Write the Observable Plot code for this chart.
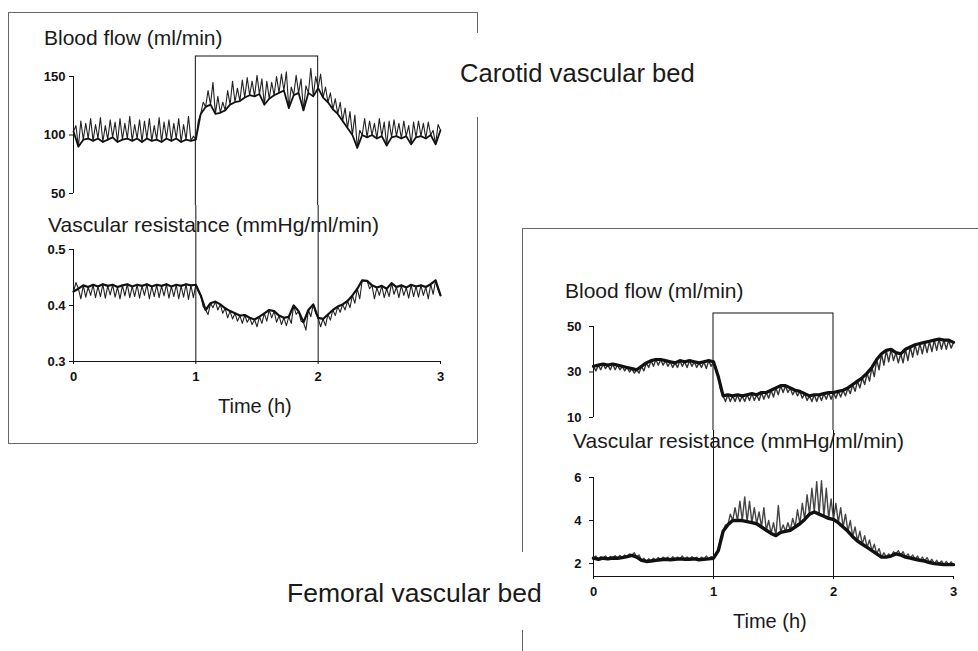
<!DOCTYPE html>
<html>
<head>
<meta charset="utf-8">
<script src="https://cdn.jsdelivr.net/npm/d3@7"></script>
<script src="https://cdn.jsdelivr.net/npm/@observablehq/plot@0.6"></script>
<style>
  html, body { margin: 0; padding: 0; background: #fff; }
  #root { position: relative; width: 978px; height: 651px; overflow: hidden; background: #fff; font-family: "Liberation Sans", Arial, sans-serif; color: #111; }
  #root svg text { font: bold 13px "Liberation Sans", Arial, sans-serif !important; fill: #111; }
  .hl { position: absolute; height: 0; border-top: 1px solid #666; }
  .vl { position: absolute; width: 0; border-left: 1px solid #666; }
  .txt { position: absolute; white-space: nowrap; line-height: 1; color: #1a1a1a; }
</style>
</head>
<body>
<div id="root"></div>
<script>
// ---------- data (read from the figure), sampled every 0.02 h from 0 to 3 h ----------
// even entries: trace baseline, odd entries: spike tips
const timeH = d3.range(151).map(i => i / 50);
const stimulation = [1, 2]; // stimulation period (h)

const carotidFlow = [
  103,108,90,112,96,110,97,114,95,109,
  97,115,94,108,96,113,98,111,94,114,
  96,110,97,116,95,109,97,113,94,112,
  97,114,95,108,96,115,94,111,97,113,
  95,110,97,114,94,109,96,116,95,99,
  96,112,118,128,124,138,126,145,118,133,
  119,128,121,138,126,146,128,140,129,147,
  132,149,134,146,133,151,135,148,126,146,
  131,145,134,150,136,152,138,154,123,141,
  134,151,136,148,121,142,136,157,133,150,
  140,152,132,141,128,136,122,131,118,128,
  112,123,106,120,100,117,89,104,100,114,
  98,112,100,110,97,114,99,111,91,112,
  98,113,99,110,97,112,99,108,92,111,
  98,112,99,110,97,111,100,104,92,109,
  104
];
const carotidRes = [
  0.425,0.441,0.43,0.412,0.436,0.415,0.433,0.418,0.437,0.414,
  0.434,0.416,0.438,0.413,0.435,0.419,0.437,0.415,0.433,0.412,
  0.436,0.417,0.438,0.414,0.434,0.416,0.437,0.413,0.435,0.418,
  0.438,0.412,0.434,0.416,0.437,0.414,0.435,0.417,0.438,0.413,
  0.434,0.416,0.437,0.412,0.435,0.415,0.438,0.411,0.436,0.414,
  0.437,0.425,0.418,0.398,0.392,0.384,0.404,0.396,0.407,0.392,
  0.402,0.386,0.395,0.378,0.39,0.376,0.386,0.372,0.382,0.368,
  0.383,0.37,0.378,0.366,0.375,0.362,0.38,0.368,0.386,0.372,
  0.392,0.378,0.39,0.37,0.382,0.366,0.378,0.364,0.38,0.368,
  0.4,0.384,0.39,0.372,0.37,0.356,0.392,0.38,0.402,0.386,
  0.378,0.362,0.376,0.364,0.384,0.374,0.392,0.382,0.398,0.388,
  0.402,0.392,0.408,0.396,0.418,0.404,0.43,0.412,0.445,0.444,
  0.444,0.43,0.436,0.412,0.432,0.418,0.435,0.414,0.43,0.416,
  0.44,0.42,0.433,0.414,0.436,0.418,0.432,0.413,0.437,0.416,
  0.434,0.415,0.436,0.418,0.433,0.412,0.438,0.42,0.445,0.428,
  0.418
];
const femoralFlow = [
  32.5,30.5,33,31,33.5,31.5,33,31,33.5,31,
  33,31,32.5,30.5,32,30,31.5,29.5,31,29.5,
  32.5,30.5,34,32,35,32.5,35.5,33,35.5,33,
  35,32.5,34.5,32,34,32,35,32.5,34.5,32,
  35,32.5,34.5,32,34,32,34.5,31.5,35,32.5,
  34.5,32,28,22,19.5,17,20,17,19.5,17,
  20,17,19.5,17,20,17.5,20.5,17.5,20,17.5,
  21,18,21,18.5,22,19,23,20,24,21,
  24,21,23,20,22,19.5,21.5,18.5,20.5,17.5,
  19.5,17,20,17,20,17.5,20.5,18,21,18,
  21,18.5,21.5,19,22,19.5,23,20.5,24.5,21.5,
  26,23,27.5,24.5,29.5,26,32,28,35.5,31,
  38,33,39.5,34.5,40,35,38.5,34,38,34,
  40,35,41,36.5,42,37.5,42.5,38,43,38.5,
  43.5,39,44,39.5,44.5,40,44,40,44,40.5,
  43
];
const femoralRes = [
  2.25,2.35,2.2,2.32,2.25,2.35,2.22,2.33,2.26,2.36,
  2.25,2.38,2.28,2.4,2.32,2.45,2.38,2.5,2.3,2.4,
  2.15,2.25,2.1,2.22,2.12,2.25,2.15,2.28,2.18,2.3,
  2.2,2.3,2.18,2.32,2.2,2.3,2.22,2.35,2.2,2.3,
  2.2,2.32,2.22,2.3,2.18,2.3,2.2,2.35,2.22,2.32,
  2.25,2.4,2.6,3.2,3.5,3.8,3.8,4.3,4.0,4.6,
  4.0,4.9,4.0,5.1,3.95,4.9,3.9,4.6,3.85,4.4,
  3.7,4.6,3.55,4.0,3.4,3.9,3.3,4.7,3.45,3.8,
  3.5,3.9,3.55,4.1,3.7,4.5,3.85,4.8,4.05,5.2,
  4.3,5.5,4.4,5.8,4.3,5.85,4.2,5.5,4.1,5.0,
  4.05,4.8,3.9,4.6,3.7,4.3,3.5,4.0,3.25,3.7,
  3.05,3.5,2.9,3.3,2.75,3.1,2.6,2.9,2.45,2.7,
  2.3,2.5,2.3,2.45,2.35,2.55,2.45,2.6,2.4,2.55,
  2.3,2.45,2.25,2.4,2.2,2.35,2.15,2.3,2.12,2.28,
  2.05,2.2,2.0,2.15,1.98,2.12,1.95,2.1,1.95,2.08,
  1.95
];

const timeTicks = [0, 1, 2, 3];
const carotidFlowTicks = [50, 100, 150];
const carotidResTicks = [0.3, 0.4, 0.5];
const femoralFlowTicks = [10, 30, 50];
const femoralResTicks = [2, 4, 6];

const titles = {
  flow: "Blood flow (ml/min)",
  res: "Vascular resistance (mmHg/ml/min)",
  time: "Time (h)",
  carotid: "Carotid vascular bed",
  femoral: "Femoral vascular bed"
};

// ---------- helpers ----------
const series = arr => timeH.map((t, i) => ({t, v: arr[i], i})).filter(d => d.v != null);
const baseOnly = arr => series(arr).filter(d => d.i % 2 === 0);
const root = document.getElementById("root");
const svgStyle = {
  fontFamily: "'Liberation Sans', Arial, sans-serif",
  fontSize: "13px",
  fontWeight: "bold",
  overflow: "hidden",
  background: "transparent",
  color: "#111"
};
const intFmt = d3.format("d");
function place(el, left, top) {
  el.style.position = "absolute";
  el.style.left = left + "px";
  el.style.top = top + "px";
  root.appendChild(el);
}
function hline(x1, x2, y) {
  const d = document.createElement("div"); d.className = "hl";
  d.style.left = x1 + "px"; d.style.top = y + "px"; d.style.width = (x2 - x1) + "px";
  root.appendChild(d);
}
function vline(x, y1, y2) {
  const d = document.createElement("div"); d.className = "vl";
  d.style.left = x + "px"; d.style.top = y1 + "px"; d.style.height = (y2 - y1) + "px";
  root.appendChild(d);
}
function label(text, left, top, size) {
  const d = document.createElement("div"); d.className = "txt";
  d.textContent = text; d.style.left = left + "px"; d.style.top = top + "px";
  d.style.fontSize = size + "px";
  root.appendChild(d);
}
// noisy recording: thin zig-zag through all samples + heavier baseline through even samples
function trace(arr, baseWidth, zigWidth, zigColor) {
  return [
    Plot.line(series(arr), {x: "t", y: "v", stroke: zigColor, strokeWidth: zigWidth}),
    Plot.line(baseOnly(arr), {x: "t", y: "v", stroke: "#111", strokeWidth: baseWidth, strokeLinejoin: "round"})
  ];
}

// ---------- panel frames ----------
hline(8, 477, 12); hline(8, 477, 443);
vline(8, 12, 443); vline(477, 12, 33); vline(477, 117, 443);
hline(522, 978, 228);
vline(522, 228, 552); vline(522, 630, 651);

// ---------- carotid: blood flow ----------
place(Plot.plot({
  width: 480, height: 155,
  marginLeft: 73, marginRight: 40, marginTop: 26, marginBottom: 12,
  x: {domain: [0, 3], axis: null},
  y: {domain: [50, 150], ticks: carotidFlowTicks, tickFormat: intFmt, tickSize: 4, tickPadding: 4, label: null},
  style: svgStyle,
  marks: [
    Plot.ruleX([0], {stroke: "#111"}),
    Plot.rect([stimulation], {x1: d => d[0], x2: d => d[1], insetTop: -20, insetBottom: -40, fill: "none", stroke: "#111", strokeWidth: 1}),
    ...trace(carotidFlow, 1.8, 1.1, "#222")
  ]
}), 0, 50);

// ---------- carotid: vascular resistance ----------
place(Plot.plot({
  width: 480, height: 240,
  marginLeft: 73, marginRight: 40, marginTop: 44, marginBottom: 84,
  x: {domain: [0, 3], ticks: timeTicks, tickFormat: intFmt, tickSize: 3, tickPadding: 7, label: null},
  y: {domain: [0.3, 0.5], ticks: carotidResTicks, tickSize: 4, tickPadding: 4, tickFormat: d3.format(".1f"), label: null},
  style: svgStyle,
  marks: [
    Plot.ruleX([0], {stroke: "#111"}),
    Plot.ruleY([0.3], {stroke: "#111"}),
    Plot.ruleX(stimulation, {stroke: "#111", strokeWidth: 1, insetTop: -44}),
    ...trace(carotidRes, 2.2, 1.1, "#222")
  ]
}), 0, 205);

// ---------- femoral: blood flow ----------
place(Plot.plot({
  width: 458, height: 140,
  marginLeft: 73, marginRight: 25, marginTop: 36, marginBottom: 13,
  x: {domain: [0, 3], axis: null},
  y: {domain: [10, 50], ticks: femoralFlowTicks, tickFormat: intFmt, tickSize: 4, tickPadding: 8, label: null},
  style: svgStyle,
  marks: [
    Plot.ruleX([0], {stroke: "#111"}),
    Plot.rect([stimulation], {x1: d => d[0], x2: d => d[1], insetTop: -13, insetBottom: -40, fill: "none", stroke: "#111", strokeWidth: 1}),
    ...trace(femoralFlow, 3.2, 1.4, "#333")
  ]
}), 520, 290);

// ---------- femoral: vascular resistance ----------
place(Plot.plot({
  width: 458, height: 221,
  marginLeft: 73, marginRight: 25, marginTop: 47, marginBottom: 75,
  x: {domain: [0, 3], ticks: timeTicks, tickFormat: intFmt, tickSize: 3, tickPadding: 7, label: null},
  y: {domain: [1.4, 6], ticks: femoralResTicks, tickFormat: intFmt, tickSize: 4, tickPadding: 8, label: null},
  style: svgStyle,
  marks: [
    Plot.ruleX([0], {stroke: "#111"}),
    Plot.ruleY([1.4], {stroke: "#111"}),
    Plot.ruleX(stimulation, {stroke: "#111", strokeWidth: 1, insetTop: -47}),
    ...trace(femoralRes, 3.4, 1.4, "#444")
  ]
}), 520, 430);

// ---------- text ----------
label(titles.flow, 44, 27, 21);
label(titles.res, 48, 214, 21);
label(titles.time, 218, 396, 20);
label(titles.carotid, 460, 61, 25.6);
label(titles.flow, 565, 280, 21);
label(titles.res, 573, 430, 21);
label(titles.time, 733, 611, 20);
label(titles.femoral, 287, 580, 26.5);
</script>
</body>
</html>
